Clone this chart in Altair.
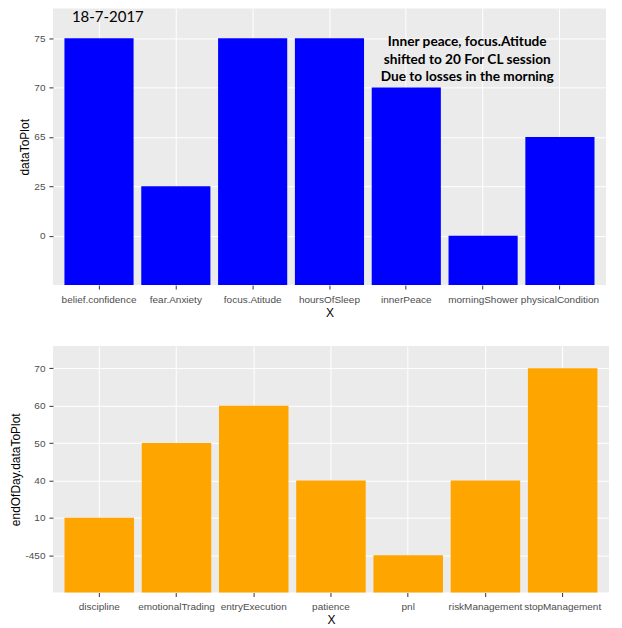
import altair as alt
import pandas as pd

top_categories = ["belief.confidence", "fear.Anxiety", "focus.Atitude", "hoursOfSleep",
                  "innerPeace", "morningShower", "physicalCondition"]
top_values = [75, 25, 75, 75, 70, 0, 65]

bottom_categories = ["discipline", "emotionalTrading", "entryExecution", "patience",
                     "pnl", "riskManagement", "stopManagement"]
bottom_values = [10, 50, 60, 40, -450, 40, 70]

date_label = "18-7-2017"
note_lines = ["Inner peace, focus.Atitude", "shifted to 20 For CL session",
              "Due to losses in the morning"]

FONT = "Liberation Sans"


def panel(cats, vals, color, ytitle, w, h):
    levels = sorted(set(vals))
    df = pd.DataFrame({
        "X": cats,
        "value": vals,
        "code": [levels.index(v) + 1 for v in vals],
    })
    n = len(levels)
    label_expr = "[" + ",".join("'%s'" % l for l in levels) + "][datum.value - 1]"
    bars = alt.Chart(df).mark_bar(color=color).encode(
        x=alt.X("X:N", sort=None, title="X",
                scale=alt.Scale(paddingInner=0.1, paddingOuter=0.15),
                axis=alt.Axis(labelAngle=0, grid=True, bandPosition=0.5,
                              labelPadding=5, titlePadding=3)),
        y=alt.Y("code:Q", title=ytitle,
                scale=alt.Scale(domain=[0, n + 0.6], nice=False, zero=False),
                axis=alt.Axis(values=list(range(1, n + 1)), labelExpr=label_expr,
                              labelPadding=4, titlePadding=2)),
    )
    return bars.properties(width=w, height=h)


top = panel(top_categories, top_values, "#0000FF", "dataToPlot", 554, 277)

date_text = alt.Chart(pd.DataFrame({"t": [date_label]})).mark_text(
    font="Lato", fontSize=15, align="left", baseline="top", color="black"
).encode(x=alt.value(19), y=alt.value(2), text="t:N")

note_text = alt.Chart(pd.DataFrame({"t": [0]})).mark_text(
    font="Lato", fontSize=13.7, fontWeight="bold", align="center", baseline="middle",
    color="black", lineHeight=17.5, text=note_lines
).encode(x=alt.value(415), y=alt.value(34))

top_layer = alt.layer(top, date_text, note_text)

bottom = panel(bottom_categories, bottom_values, "#FFA500", "endOfDay.dataToPlot", 557, 247)

chart = alt.vconcat(top_layer, bottom, spacing=28).properties(
    padding={"left": 1, "top": 0, "right": 5, "bottom": 0},
    background="white",
).configure_view(
    fill="#EBEBEB", stroke=None
).configure_axis(
    labelFont=FONT, labelFontSize=10, labelColor="#4D4D4D",
    titleFont=FONT, titleFontSize=12, titleFontWeight="normal", titleColor="black",
    tickColor="#333333", tickSize=4, domain=False,
    gridColor="white", gridWidth=1,
)

chart.save("out.html", embed_options={"renderer": "svg", "actions": False})
